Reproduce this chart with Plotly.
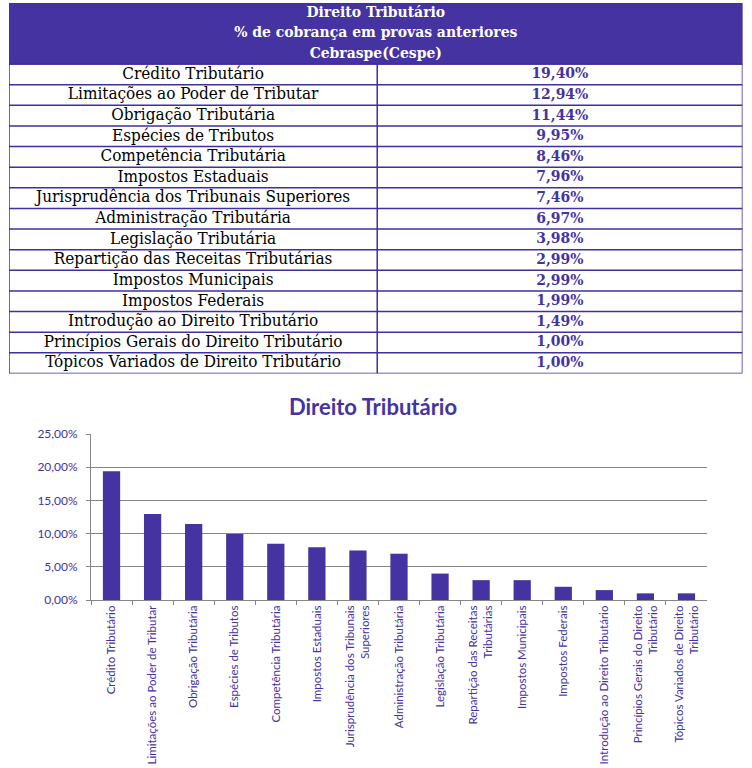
import plotly.graph_objects as go

categories = [
    "Crédito Tributário",
    "Limitações ao Poder de Tributar",
    "Obrigação Tributária",
    "Espécies de Tributos",
    "Competência Tributária",
    "Impostos Estaduais",
    "Jurisprudência dos Tribunais Superiores",
    "Administração Tributária",
    "Legislação Tributária",
    "Repartição das Receitas Tributárias",
    "Impostos Municipais",
    "Impostos Federais",
    "Introdução ao Direito Tributário",
    "Princípios Gerais do Direito Tributário",
    "Tópicos Variados de Direito Tributário",
]
# axis labels (wrapped as in the reference)
axis_labels = [
    "Crédito Tributário",
    "Limitações ao Poder de Tributar",
    "Obrigação Tributária",
    "Espécies de Tributos",
    "Competência Tributária",
    "Impostos Estaduais",
    "Jurisprudência dos Tribunais<br>Superiores",
    "Administração Tributária",
    "Legislação Tributária",
    "Repartição das Receitas<br>Tributárias",
    "Impostos Municipais",
    "Impostos Federais",
    "Introdução ao Direito Tributário",
    "Princípios Gerais do Direito<br>Tributário",
    "Tópicos Variados de Direito<br>Tributário",
]
percent_values = [19.40, 12.94, 11.44, 9.95, 8.46, 7.96, 7.46, 6.97, 3.98, 2.99, 2.99, 1.99, 1.49, 1.00, 1.00]
header_lines = ["Direito Tributário", "% de cobrança em provas anteriores", "Cebraspe(Cespe)"]
chart_title = "Direito Tributário"

PURPLE = "#4433A0"
LINE = "#3F2F9F"
GRID = "#868686"
W, H = 752, 768
TABLE_FONT = "DejaVu Serif Condensed, DejaVu Serif, Liberation Serif"

def py(p):
    return (H - p) / H

def px_(p):
    return p / W

n = len(categories)
rows = list(range(n))
header_units = 61 / 20.6          # header height in row units
top = -0.5 - header_units
split = 0.502                     # column divider (fraction of table width)
value_text = ["<b>" + f"{v:.2f}%".replace(".", ",") + "</b>" for v in percent_values]

fig = go.Figure()

# ---- table (drawn on its own axes) ----
fig.add_shape(type="rect", xref="x2", yref="y2", x0=0, x1=1, y0=top, y1=-0.5,
              fillcolor=PURPLE, line=dict(color=LINE, width=1.5), layer="below")
for i in range(n + 1):
    fig.add_shape(type="line", xref="x2", yref="y2", x0=0, x1=1, y0=i - 0.5, y1=i - 0.5,
                  line=dict(color=LINE, width=1.5))
for xv in (0, split, 1):
    fig.add_shape(type="line", xref="x2", yref="y2", x0=xv, x1=xv, y0=-0.5, y1=n - 0.5,
                  line=dict(color=LINE, width=1.5))

fig.add_trace(go.Scatter(
    x=[0.5] * len(header_lines),
    y=[top + (k + 0.5) * header_units / len(header_lines) for k in range(len(header_lines))],
    text=["<b>" + t + "</b>" for t in header_lines],
    mode="text", textposition="middle center",
    textfont=dict(family=TABLE_FONT, size=15.5, color="white"),
    xaxis="x2", yaxis="y2", hoverinfo="skip",
))
fig.add_trace(go.Scatter(
    x=[split / 2] * n, y=rows, text=categories,
    mode="text", textposition="middle center",
    textfont=dict(family=TABLE_FONT, size=17, color="black"),
    xaxis="x2", yaxis="y2", hoverinfo="skip",
))
fig.add_trace(go.Scatter(
    x=[(split + 1) / 2] * n, y=rows, text=value_text,
    mode="text", textposition="middle center",
    textfont=dict(family=TABLE_FONT, size=15.5, color=PURPLE),
    xaxis="x2", yaxis="y2", hoverinfo="skip",
))

# ---- bar chart ----
fig.add_trace(go.Bar(
    x=axis_labels,
    y=[v / 100 for v in percent_values],
    marker=dict(color=PURPLE, line_width=0),
    xaxis="x", yaxis="y",
    hoverinfo="skip",
))

fig.update_layout(
    width=W, height=H,
    autosize=False,
    margin=dict(l=0, r=0, t=0, b=0, pad=0),
    paper_bgcolor="white",
    plot_bgcolor="white",
    separators=",.",
    showlegend=False,
    bargap=0.58,
    title=dict(
        text="<b>" + chart_title + "</b>",
        x=0.496, xanchor="center",
        y=py(407), yanchor="middle", yref="paper",
        font=dict(family="Lato", size=22, color=PURPLE),
    ),
    xaxis=dict(
        domain=[px_(91), px_(707)],
        anchor="y",
        automargin=False,
        tickangle=-90,
        tickfont=dict(family="Lato", size=11.5, color=PURPLE),
        showline=True, linecolor=GRID, linewidth=1,
        ticks="outside", ticklen=4, tickcolor=GRID,
        tickson="boundaries",
        showgrid=False,
        fixedrange=True,
    ),
    yaxis=dict(
        domain=[py(600), py(434)],
        anchor="x",
        automargin=False,
        range=[0, 0.25],
        tick0=0, dtick=0.05,
        tickformat=".2%",
        tickfont=dict(family="Lato", size=12, color=PURPLE),
        ticklabelstandoff=6,
        showline=True, linecolor=GRID, linewidth=1,
        ticks="outside", ticklen=4, tickcolor=GRID,
        showgrid=True, gridcolor=GRID, gridwidth=1,
        zeroline=False,
        fixedrange=True,
    ),
    xaxis2=dict(
        domain=[px_(9), px_(742.5)], anchor="y2",
        range=[0, 1], visible=False, fixedrange=True, automargin=False,
    ),
    yaxis2=dict(
        domain=[py(373.5), py(3)], anchor="x2",
        range=[n - 0.5, top], visible=False, fixedrange=True, automargin=False,
    ),
)

fig.write_html(
    "out.html",
    config={"displayModeBar": False, "responsive": False, "staticPlot": True},
    post_script="document.body.style.margin='0';document.body.style.overflow='hidden';",
)
